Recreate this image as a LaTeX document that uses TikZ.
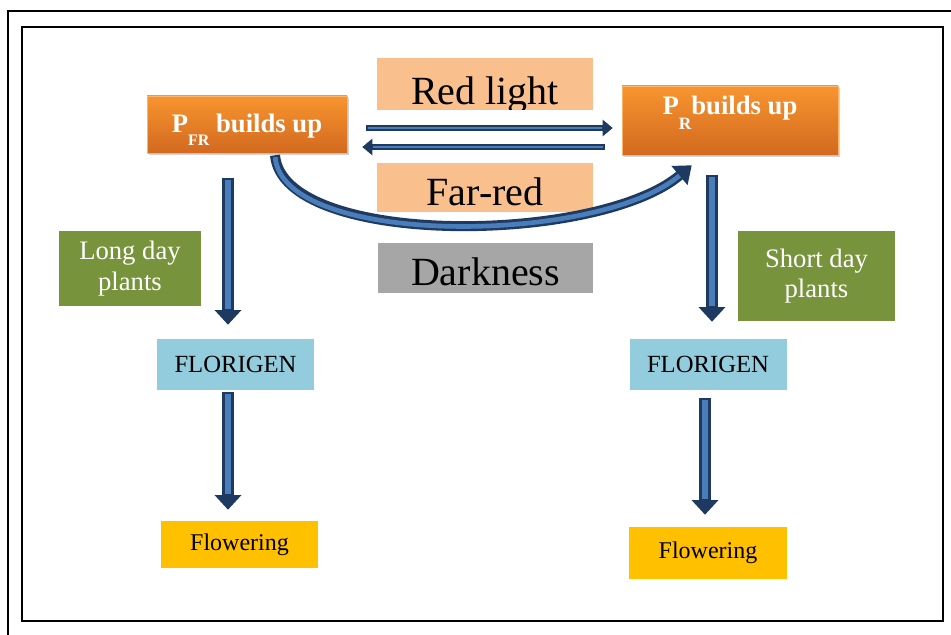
\documentclass[tikz,border=0pt]{standalone}
\usepackage{fontspec}
\setmainfont{Liberation Serif}
\usetikzlibrary{positioning,arrows.meta,calc,shadows}
\definecolor{phyorangetop}{HTML}{F8952F}
\definecolor{phyorangebot}{HTML}{D2691F}
\definecolor{phypeach}{HTML}{F9C08E}
\definecolor{phygray}{HTML}{A6A6A6}
\definecolor{phygreen}{HTML}{77933C}
\definecolor{phycyan}{HTML}{93CDDD}
\definecolor{phygold}{HTML}{FFC000}
\definecolor{phynavy}{HTML}{1F3A60}
\definecolor{phyblue}{HTML}{4A7EBB}
\newcommand{\lowered}[2]{\raisebox{-#1}[\height][\depth]{#2}}

\begin{document}
\begin{tikzpicture}[
  x=0.75pt, y=-0.75pt,
  every node/.style = {inner sep=0pt, align=center},
  buildbox/.style = {top color=phyorangetop, bottom color=phyorangebot, draw=phyorangetop!70!white,
                     text=white, font=\fontsize{20}{24}\selectfont\bfseries,
                     drop shadow={opacity=0.35, shadow xshift=1.5pt, shadow yshift=-1.5pt}},
  lightbox/.style = {fill=phypeach, minimum width=162pt, font=\fontsize{30}{32}\selectfont},
  darkbox/.style = {fill=phygray, minimum width=161.25pt, minimum height=37.5pt, font=\fontsize{30}{32}\selectfont},
  plantbox/.style = {fill=phygreen, text=white, font=\fontsize{20}{23}\selectfont},
  florbox/.style = {fill=phycyan, minimum width=117.75pt, minimum height=38.25pt, font=\fontsize{18.5}{20}\selectfont},
  flowbox/.style = {fill=phygold, font=\fontsize{18}{20}\selectfont},
  fatarrow/.style = {draw=phynavy, line width=9pt, -{Triangle[length=11pt, width=19.5pt]},
                     postaction={draw=phyblue, line width=4.5pt, -, shorten >=12pt, shorten <=1.5pt}},
  thinarrow/.style = {draw=phynavy, line width=4.5pt, -{Triangle[length=7.5pt, width=12pt]},
                      postaction={draw=phyblue, line width=1.8pt, -, shorten >=8pt, shorten <=1.2pt}},
  curvearrow/.style = {draw=phynavy, line width=7.5pt, -{Triangle[length=12pt, width=18pt]},
                       postaction={draw=phyblue, line width=3.5pt, -, shorten >=12pt, shorten <=1.5pt}},
]
\useasboundingbox (0,0) rectangle (951,635);
\clip (0,0) rectangle (951,635);

% ---------- frames ----------
\draw[line width=1.1pt] (8,11) rectangle (975,665);
\draw[line width=1.5pt] (22,27) rectangle (943,621);

% ---------- phytochrome states ----------
\node[buildbox, minimum width=150pt, minimum height=42.75pt] (pfr) at (247,124.5)
  {\lowered{1pt}{P\raisebox{-0.5em}[0pt][0pt]{\fontsize{12}{12}\selectfont FR} builds up}};
\node[buildbox, minimum width=162pt, minimum height=51.75pt] (pr) at (730,120.5)
  {\lowered{-9pt}{P\raisebox{-0.55em}[0pt][0pt]{\fontsize{13}{13}\selectfont R}builds up}};

% ---------- light conditions ----------
% the red light label sits low and loses the tail of its g
\node[lightbox, minimum height=39pt,
      path picture={\node[font=\fontsize{30}{32}\selectfont] at ([yshift=-8pt]path picture bounding box.center) {Red light};}]
  (red) at (485,84) {};
\node[lightbox, minimum height=36.75pt] (far) at (485,187.5) {\lowered{3pt}{Far-red}};
\node[darkbox] (dark) at (485.5,268) {\lowered{2.5pt}{Darkness}};

% ---------- plant types ----------
\node[plantbox, minimum width=106.5pt, minimum height=56.25pt] (longd) at (130,268.5) {Long day\\plants};
\node[plantbox, minimum width=117.75pt, minimum height=67.5pt] (shortd) at (816.5,276) {Short day\\plants};

% ---------- florigen and flowering ----------
\node[florbox] (florL) at (235.5,364.5) {FLORIGEN};
\node[florbox] (florR) at (708,364.5) {FLORIGEN};
\node[flowbox, minimum width=117.75pt, minimum height=35.25pt] (flowL) at (239.5,544.5) {Flowering};
\node[flowbox, minimum width=118.5pt, minimum height=39pt] (flowR) at (708,553) {Flowering};

% ---------- flows ----------
% red light converts to the right, far-red back to the left
\draw[thinarrow] ($(pfr.east)+(19,3.5)$) -- ($(pr.west)+(-9,7.5)$);
\draw[thinarrow] ($(pr.west)+(-17,26.5)$) -- ($(pfr.east)+(15,22.5)$);

% darkness sweeps the state round underneath
\draw[curvearrow] ($(pfr.south)+(28,2)$) .. controls +(8,92) and +(-95,80) .. ($(pr.south west)+(70,10)$);

% left column: long day plants
\draw[fatarrow] ($(pfr.south)+(-19,25)$) -- ($(florL.north)+(-7.5,-14)$);
\draw[fatarrow] ($(florL.south)+(-7.5,2)$) -- ($(flowL.north)+(-11.5,-11)$);

% right column: short day plants
\draw[fatarrow] ($(pr.south)+(-18,20)$) -- ($(florR.north)+(4,-17)$);
\draw[fatarrow] ($(florR.south)+(-3,8)$) -- ($(flowR.north)+(-3,-12)$);

\end{tikzpicture}
\end{document}
